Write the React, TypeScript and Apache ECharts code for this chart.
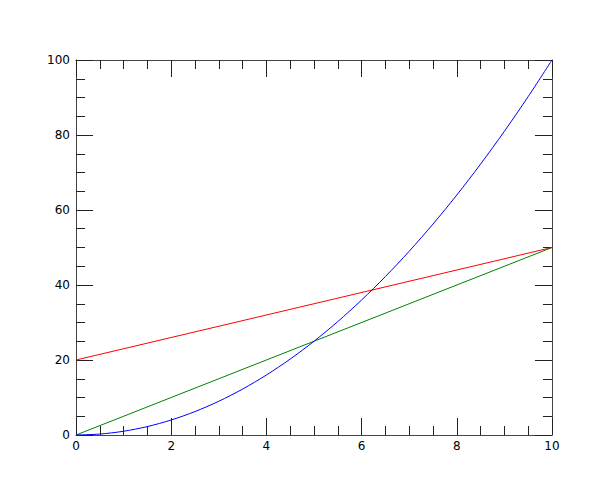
import React, { useEffect, useRef } from "react";
import * as echarts from "echarts";

const xValues = [0, 0.5, 1, 1.5, 2, 2.5, 3, 3.5, 4, 4.5, 5, 5.5, 6, 6.5, 7, 7.5, 8, 8.5, 9, 9.5, 10];
const blueValues = [0, 0.25, 1, 2.25, 4, 6.25, 9, 12.25, 16, 20.25, 25, 30.25, 36, 42.25, 49, 56.25, 64, 72.25, 81, 90.25, 100];
const redX = [0, 10];
const redValues = [20, 50];
const greenX = [0, 10];
const greenValues = [0, 50];

const pairs = (xs: number[], ys: number[]) => xs.map((x, i) => [x, ys[i]]);

export default function App() {
  const ref = useRef<HTMLDivElement>(null);
  useEffect(() => {
    if (!ref.current) return;
    const chart = echarts.init(ref.current, null, { renderer: "svg" });
    const axisLine = { show: true, onZero: false, lineStyle: { color: "#444", width: 1 } };
    const axisTick = { show: true, inside: true, length: 17, lineStyle: { color: "#222", width: 1 } };
    const minorTick = { show: true, splitNumber: 4, length: 9, lineStyle: { color: "#222", width: 1 } };
    const label = { color: "#000", fontSize: 12, fontFamily: "DejaVu Sans" };
    chart.setOption({
      animation: false,
      backgroundColor: "#fff",
      grid: { left: 76, right: 48, top: 60, bottom: 65, containLabel: false },
      xAxis: [
        {
          type: "value", min: 0, max: 10, interval: 2, position: "bottom",
          axisLine, axisTick, minorTick, splitLine: { show: false }, minorSplitLine: { show: false },
          axisLabel: { ...label, margin: 5 },
        },
        {
          type: "value", min: 0, max: 10, interval: 2, position: "top",
          axisLine, axisTick, minorTick, splitLine: { show: false }, minorSplitLine: { show: false },
          axisLabel: { show: false },
        },
      ],
      yAxis: [
        {
          type: "value", min: 0, max: 100, interval: 20, position: "left",
          axisLine, axisTick, minorTick, splitLine: { show: false }, minorSplitLine: { show: false },
          axisLabel: { ...label, margin: 6 },
        },
        {
          type: "value", min: 0, max: 100, interval: 20, position: "right",
          axisLine, axisTick, minorTick, splitLine: { show: false }, minorSplitLine: { show: false },
          axisLabel: { show: false },
        },
      ],
      series: [
        {
          type: "line", data: pairs(redX, redValues), showSymbol: false,
          lineStyle: { color: "#ff0000", width: 1 }, itemStyle: { color: "#ff0000" },
        },
        {
          type: "line", data: pairs(greenX, greenValues), showSymbol: false,
          lineStyle: { color: "#008000", width: 1 }, itemStyle: { color: "#008000" },
        },
        {
          type: "line", data: pairs(xValues, blueValues), showSymbol: false, smooth: 0.3,
          lineStyle: { color: "#0000ff", width: 1 }, itemStyle: { color: "#0000ff" },
        },
      ],
    });
    return () => chart.dispose();
  }, []);
  return <div ref={ref} style={{ position: "fixed", left: 0, top: 0, width: 600, height: 500 }} />;
}
